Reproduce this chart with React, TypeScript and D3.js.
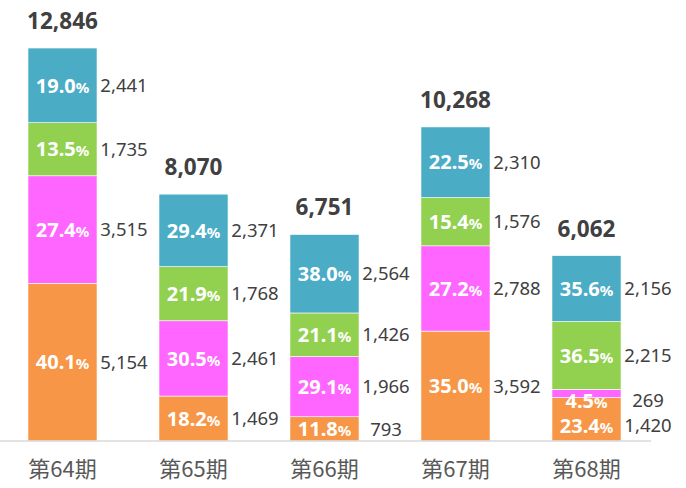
import React from "react";
import * as d3 from "d3";

const categories = ["第64期", "第65期", "第66期", "第67期", "第68期"];
const totals = [12846, 8070, 6751, 10268, 6062];
const seriesKeys = ["orange", "magenta", "green", "blue"];
const orangeValues = [5154, 1469, 793, 3592, 1420];
const magentaValues = [3515, 2461, 1966, 2788, 269];
const greenValues = [1735, 1768, 1426, 1576, 2215];
const blueValues = [2441, 2371, 2564, 2310, 2156];
const orangePct = ["40.1", "18.2", "11.8", "35.0", "23.4"];
const magentaPct = ["27.4", "30.5", "29.1", "27.2", "4.5"];
const greenPct = ["13.5", "21.9", "21.1", "15.4", "36.5"];
const bluePct = ["19.0", "29.4", "38.0", "22.5", "35.6"];

const colors: Record<string, string> = {
  orange: "#F79646",
  magenta: "#FF66FF",
  green: "#92D050",
  blue: "#4BACC6",
};

const W = 686;
const H = 488;
const FONT = "'Noto Sans', 'Noto Sans CJK JP', sans-serif";

export default function App() {
  const rows = categories.map((c, i) => ({
    cat: c,
    orange: orangeValues[i],
    magenta: magentaValues[i],
    green: greenValues[i],
    blue: blueValues[i],
  }));
  const pcts: Record<string, string[]> = {
    orange: orangePct,
    magenta: magentaPct,
    green: greenPct,
    blue: bluePct,
  };
  const stacked = d3.stack<any>().keys(seriesKeys)(rows);

  const x = d3
    .scaleBand<string>()
    .domain(categories)
    .range([-3, 652])
    .paddingInner(0.473)
    .paddingOuter(0.2365);
  const y = d3.scaleLinear().domain([0, d3.max(totals)!]).range([441, 48]);

  const labelPos: number[][] = categories.map((_, i) => {
    const centers = stacked.map((s) => {
      const d = s[i];
      const top = y(d[1]);
      const bot = y(d[0]);
      return { top, bot, h: bot - top };
    });
    const out: number[] = new Array(centers.length);
    let prev = -Infinity;
    for (let k = centers.length - 1; k >= 0; k--) {
      const c = centers[k];
      let cy = c.h < 18 ? c.bot + 3 : (c.top + c.bot) / 2;
      if (cy < prev + 25) cy = prev + 25;
      out[k] = cy;
      prev = cy;
    }
    return out;
  });

  const bw = x.bandwidth();

  return (
    <svg
      width={W}
      height={H}
      style={{ position: "absolute", left: 0, top: 0, background: "#fff" }}
      fontFamily={FONT}
    >
      {stacked.map((s) => (
        <g key={s.key}>
          {s.map((d, i) => (
            <rect
              key={i}
              x={x(categories[i])}
              y={y(d[1])}
              width={bw}
              height={y(d[0]) - y(d[1])}
              fill={colors[s.key]}
              stroke="#fff"
              strokeWidth={0.6}
            />
          ))}
        </g>
      ))}
      <line x1={0} x2={651} y1={441} y2={441} stroke="#D9D9D9" strokeWidth={1.5} />
      {stacked.map((s, k) =>
        s.map((d, i) => {
          const cx = x(categories[i])! + bw / 2;
          const cy = labelPos[i][k];
          return (
            <g key={s.key + i}>
              <text
                x={cx}
                y={cy}
                dy="0.36em"
                textAnchor="middle"
                fill="#fff"
                fontWeight="bold"
                fontSize={20}
              >
                {pcts[s.key][i]}
                <tspan fontSize={15}>%</tspan>
              </text>
              <text
                x={x(categories[i])! + bw + 27}
                y={cy}
                dy="0.36em"
                textAnchor="middle"
                fill="#404040"
                fontSize={18.5}
              >
                {d3.format(",")(d.data[s.key])}
              </text>
            </g>
          );
        })
      )}
      {categories.map((c, i) => (
        <text
          key={c}
          x={x(c)! + bw / 2}
          y={y(totals[i]) - 19}
          textAnchor="middle"
          fill="#404040"
          fontWeight="bold"
          fontSize={22.5}
        >
          {d3.format(",")(totals[i])}
        </text>
      ))}
      {categories.map((c) => (
        <text
          key={c + "x"}
          x={x(c)! + bw / 2}
          y={477}
          textAnchor="middle"
          fill="#595959"
          fontSize={22}
          fontFamily="'Noto Sans CJK JP', 'Noto Sans', sans-serif"
        >
          {c}
        </text>
      ))}
    </svg>
  );
}
